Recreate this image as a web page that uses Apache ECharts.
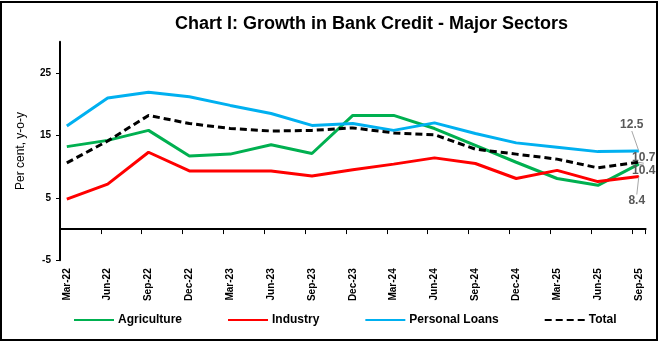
<!DOCTYPE html>
<html>
<head>
<meta charset="utf-8">
<script src="https://cdn.jsdelivr.net/npm/echarts@6/dist/echarts.min.js"></script>
<style>
  html, body { margin: 0; padding: 0; background: #fff; }
  #wrap { position: relative; width: 665px; height: 344px; }
  #chart { width: 665px; height: 344px; }
  #frame { position: absolute; left: 0; top: 1px; width: 654px; height: 336px; border: 2px solid #000; pointer-events: none; }
</style>
</head>
<body>
<div id="wrap"><div id="chart"></div><div id="frame"></div></div>
<script>
// Quarterly observation labels (tick labels)
const quarters = ['Mar-22','Jun-22','Sep-22','Dec-22','Mar-23','Jun-23','Sep-23','Dec-23',
                  'Mar-24','Jun-24','Sep-24','Dec-24','Mar-25','Jun-25','Sep-25'];
// Series values (per cent, y-o-y)
const agriculture   = [13.2, 14.2, 15.8, 11.7, 12.0, 13.5, 12.1, 18.2, 18.2, 16.1, 13.4, 10.7, 8.1, 7.0, 10.4];
const industry      = [4.8, 7.2, 12.3, 9.3, 9.3, 9.3, 8.5, 9.5, 10.4, 11.4, 10.5, 8.1, 9.4, 7.6, 8.4];
const personalLoans = [16.5, 21.0, 21.9, 21.2, 19.8, 18.5, 16.6, 16.9, 15.8, 17.0, 15.3, 13.8, 13.1, 12.4, 12.5];
const total         = [10.6, 14.1, 18.2, 16.9, 16.1, 15.7, 15.8, 16.2, 15.4, 15.1, 12.8, 12.0, 11.2, 9.8, 10.7];
const yTicks = [-5, 5, 15, 25];

// Monthly category axis (quarterly observations on a monthly time line)
const monNames = ['Jan','Feb','Mar','Apr','May','Jun','Jul','Aug','Sep','Oct','Nov','Dec'];
const months = [];
for (let y = 22, m = 2; !(y === 25 && m > 8); ) {
  months.push(monNames[m] + '-' + y);
  m++; if (m > 11) { m = 0; y++; }
}
const font = 'Liberation Sans, Arial, sans-serif';
const endLabel = { show: true, position: 'inside', color: '#595959', fontWeight: 'bold', fontSize: 12,
                   fontFamily: font, formatter: p => Number(p.value).toFixed(1) };
function toMonthly(arr) {
  const out = months.map(() => null);
  quarters.forEach((q, i) => {
    const idx = months.indexOf(q);
    out[idx] = (i === quarters.length - 1) ? { value: arr[i], symbolSize: 1, label: endLabel } : arr[i];
  });
  return out;
}

const chart = echarts.init(document.getElementById('chart'), null, { renderer: 'canvas' });
function mk(name, arr, color, dash, layout) {
  return {
    name, type: 'line', symbol: 'circle', symbolSize: 0, showSymbol: true, showAllSymbol: true,
    connectNulls: true, xAxisIndex: 0,
    data: toMonthly(arr),
    lineStyle: { color, width: 3, type: dash ? [7, 4] : 'solid' },
    itemStyle: { color },
    label: { show: false },
    labelLine: { show: true, smooth: false, lineStyle: { color: '#a6a6a6', width: 1 } },
    labelLayout: layout,
    emphasis: { disabled: true },
    animation: false
  };
}
chart.setOption({
  animation: false,
  title: {
    text: 'Chart I: Growth in Bank Credit - Major Sectors',
    left: 170, top: 10,
    textStyle: { fontFamily: font, fontWeight: 'bold', fontSize: 18, color: '#000' }
  },
  grid: { left: 60, right: 19.4, top: 41.7, bottom: 83.7, containLabel: false },
  legend: {
    left: 73, top: 314, padding: 0, itemGap: 45, itemWidth: 40, itemHeight: 10,
    itemStyle: { opacity: 0 },
    textStyle: { fontFamily: font, fontWeight: 'bold', fontSize: 12, color: '#000', padding: [0, 0, 0, -1] },
    data: ['Agriculture', 'Industry', 'Personal Loans', 'Total']
  },
  xAxis: [
    {
      type: 'category', data: months, boundaryGap: true,
      axisLine: { onZero: true, lineStyle: { color: '#000', width: 2 } },
      axisTick: { show: true, interval: 2, length: 5, lineStyle: { color: '#000', width: 1 } },
      axisLabel: { show: false }, splitLine: { show: false }
    },
    {
      type: 'category', data: months, boundaryGap: true, position: 'bottom',
      axisLine: { show: false, onZero: false }, axisTick: { show: false },
      axisLabel: { interval: 2, rotate: 90, margin: 8, fontFamily: font, fontWeight: 'bold', fontSize: 10, color: '#000' },
      splitLine: { show: false }
    }
  ],
  yAxis: {
    type: 'value', min: -5, max: 30, interval: 10,
    name: 'Per cent, y-o-y', nameLocation: 'middle', nameGap: 33, nameRotate: 90,
    nameTextStyle: { fontFamily: font, fontSize: 12, color: '#000' },
    axisLine: { show: true, lineStyle: { color: '#000', width: 2 } },
    axisTick: { show: true, length: 4, customValues: yTicks, lineStyle: { color: '#000' } },
    axisLabel: { customValues: yTicks, margin: 9, fontFamily: font, fontWeight: 'bold', fontSize: 10, color: '#000' },
    splitLine: { show: false }
  },
  series: [
    mk('Agriculture', agriculture, '#00B050', false, { dx: 5, dy: 7 }),
    mk('Industry', industry, '#FF0000', false, { dx: -2, dy: 24 }),
    mk('Personal Loans', personalLoans, '#00B0F0', false, { dx: -7, dy: -26 }),
    mk('Total', total, '#000000', true, { dx: 5, dy: -5 })
  ]
});
</script>
</body>
</html>
